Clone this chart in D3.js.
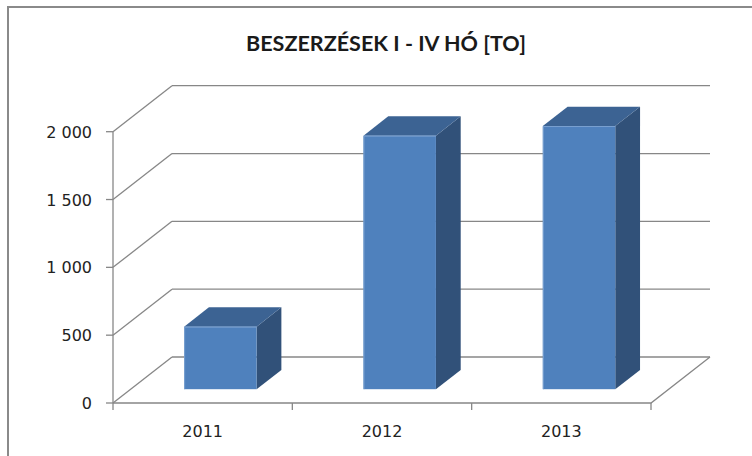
<!DOCTYPE html>
<html><head><meta charset="utf-8">
<script src="https://cdn.jsdelivr.net/npm/d3@7"></script>
<style>html,body{margin:0;padding:0;background:#fff;}svg{display:block;}</style>
</head><body>
<svg id="c" width="752" height="456"></svg>
<script>
const categories = ["2011", "2012", "2013"];
const values = [461, 1869, 1940];
const yTicks = [0, 500, 1000, 1500, 2000];
const yTickLabels = ["0", "500", "1 000", "1 500", "2 000"];
const title = "BESZERZÉSEK I - IV HÓ [TO]";

const svg = d3.select("#c");
const W = 752, H = 456;
const left = 113, right = 651, base = 403, topY = 131.7;
const DX = 59, DY = -46; // full depth offset
const barT0 = 0.3, barT1 = 0.72; // bar depth range
const lineCol = "#878787";

const x = d3.scaleBand().domain(categories).range([left, right]).paddingInner(0).paddingOuter(0);
const y = d3.scaleLinear().domain([0, 2000]).range([base, topY]);

// border
svg.append("path").attr("d", `M8,${H} L8,7 L${W},7`).attr("fill","none").attr("stroke","#8a8a8a").attr("stroke-width",2);

// title
svg.append("text").attr("x", 386).attr("y", 51).attr("text-anchor","middle")
  .attr("font-family","Lato, 'Open Sans', sans-serif").attr("font-weight","bold")
  .attr("font-size", 21).attr("fill","#1a1a1a")
  .attr("textLength", 280).attr("lengthAdjust", "spacingAndGlyphs").text(title);

const g = svg.append("g");
// back wall gridlines + left wall diagonals
yTicks.forEach(v => {
  const yy = y(v);
  g.append("line").attr("x1", left + DX).attr("y1", yy + DY).attr("x2", right + DX).attr("y2", yy + DY)
    .attr("stroke", lineCol).attr("stroke-width", 1.3);
  g.append("line").attr("x1", left).attr("y1", yy).attr("x2", left + DX).attr("y2", yy + DY)
    .attr("stroke", lineCol).attr("stroke-width", 1.3);
});
// floor
g.append("path").attr("d", `M${left},${base} L${right},${base} L${right+DX},${base+DY}`)
  .attr("fill","none").attr("stroke", lineCol).attr("stroke-width", 1.3);
// y axis line
g.append("line").attr("x1", left).attr("y1", y(2000)).attr("x2", left).attr("y2", base)
  .attr("stroke", lineCol).attr("stroke-width", 1.3);
// y ticks
yTicks.forEach((v, i) => {
  g.append("line").attr("x1", left - 7).attr("y1", y(v)).attr("x2", left).attr("y2", y(v))
    .attr("stroke", lineCol).attr("stroke-width", 1.3);
  g.append("text").attr("x", 92).attr("y", y(v) + 6).attr("text-anchor","end")
    .attr("font-family","'DejaVu Sans', Verdana, sans-serif").attr("font-size", 16).attr("fill","#222")
    .text(yTickLabels[i]);
});
// x ticks
const xb = categories.map(c => x(c)).concat([right]);
xb.forEach(xx => {
  g.append("line").attr("x1", xx).attr("y1", base).attr("x2", xx).attr("y2", base + 7)
    .attr("stroke", lineCol).attr("stroke-width", 1.3);
});
categories.forEach(c => {
  g.append("text").attr("x", x(c) + x.bandwidth()/2).attr("y", 437).attr("text-anchor","middle")
    .attr("font-family","'DejaVu Sans', Verdana, sans-serif").attr("font-size", 16).attr("fill","#222")
    .text(c);
});

// bars
const barW = x.bandwidth() * 0.404;
const bdx = DX * (barT1 - barT0), bdy = DY * (barT1 - barT0);
categories.forEach((c, i) => {
  const cx = x(c) + x.bandwidth()/2 + DX * barT0;
  const x0 = cx - barW/2, x1 = cx + barW/2;
  const yb = y(0) + DY * barT0;
  const yt = y(values[i]) + DY * barT0;
  const bg = g.append("g");
  // side
  bg.append("path").attr("d", `M${x1},${yb} L${x1+bdx},${yb+bdy} L${x1+bdx},${yt+bdy} L${x1},${yt} Z`).attr("fill", "#315179");
  // top
  bg.append("path").attr("d", `M${x0},${yt} L${x0+bdx},${yt+bdy} L${x1+bdx},${yt+bdy} L${x1},${yt} Z`).attr("fill", "#3c6393");
  // front
  bg.append("rect").attr("x", x0).attr("y", yt).attr("width", barW).attr("height", yb - yt).attr("fill", "#4f81bd");
  bg.append("path").attr("d", `M${x0+0.5},${yb} L${x0+0.5},${yt+0.5} L${x1},${yt+0.5}`).attr("fill","none").attr("stroke","#7aa0d0").attr("stroke-width",1);
});
</script>
</body></html>
